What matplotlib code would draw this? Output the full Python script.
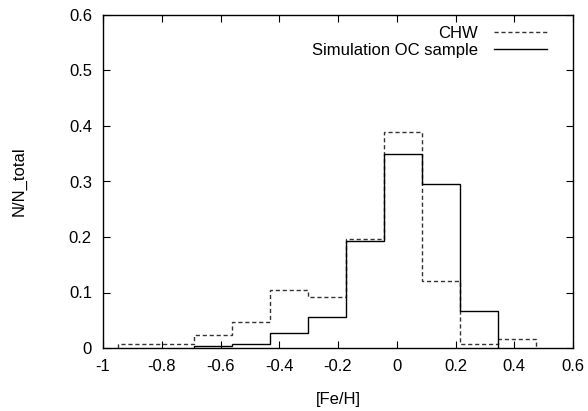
import matplotlib
matplotlib.use("Agg")
import matplotlib.pyplot as plt
import numpy as np

plt.rcParams['font.family'] = ['Liberation Sans', 'DejaVu Sans']

# bin edges of the [Fe/H] histograms
edges = [-0.949, -0.82, -0.69, -0.561, -0.432, -0.302, -0.173, -0.043, 0.086, 0.215, 0.345, 0.474]

# CHW catalogue
chw = [0.007, 0.007, 0.023, 0.046, 0.105, 0.091, 0.196, 0.390, 0.121, 0.008, 0.016]

# simulated open cluster sample (starts in the third bin, ends in the tenth)
sim_edges = edges[2:11]
sim = [0.003, 0.007, 0.027, 0.056, 0.193, 0.350, 0.295, 0.067]

xticks = [-1, -0.8, -0.6, -0.4, -0.2, 0, 0.2, 0.4, 0.6]
xlabels = ['-1', '-0.8', '-0.6', '-0.4', '-0.2', '0', '0.2', '0.4', '0.6']
yticks = [0, 0.1, 0.2, 0.3, 0.4, 0.5, 0.6]
ylabels = ['0', '0.1', '0.2', '0.3', '0.4', '0.5', '0.6']

fig = plt.figure(figsize=(5.88, 4.11), dpi=100)
ax = fig.add_axes([103/588, 1 - 348/411, 470/588, 333/411])

ax.stairs(chw, edges, baseline=0, color='#333333', lw=1.0, linestyle=(0, (3, 2)), label='CHW')
ax.stairs(sim, sim_edges, baseline=0, color='black', lw=1.0, label='Simulation OC sample')

ax.set_xlim(-1, 0.6)
ax.set_ylim(0, 0.6)
ax.set_xticks(xticks)
ax.set_xticklabels(xlabels)
ax.set_yticks(yticks)
ax.set_yticklabels(ylabels)
ax.tick_params(direction='in', top=True, right=True, length=5, labelsize=12, pad=8)
for s in ax.spines.values():
    s.set_linewidth(1.0)

ax.set_xlabel('[Fe/H]', fontsize=12, labelpad=13)
ax.set_ylabel('N/N_total', fontsize=12, labelpad=30)

ax.legend(loc='upper right', bbox_to_anchor=(1 - 14/470, 1.003), frameon=False,
          markerfirst=False, fontsize=12,
          handlelength=3.2, handletextpad=0.95, labelspacing=0.15,
          borderaxespad=0.3)

fig.savefig('out.png', dpi=100)
